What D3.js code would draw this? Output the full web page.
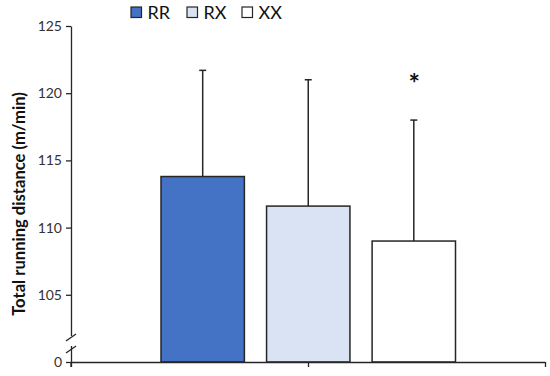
<!DOCTYPE html>
<html>
<head>
<meta charset="utf-8">
<script src="https://cdn.jsdelivr.net/npm/d3@7"></script>
<style>
  html, body { margin: 0; padding: 0; background: #fff; }
  svg { display: block; }
  text { font-family: Lato, "Open Sans", sans-serif; }
</style>
</head>
<body>
<div id="chart"></div>
<script>
// ---- data ----
const categories = ["RR", "RX", "XX"];
const means = [113.8, 111.6, 109.0];
const sds = [7.9, 9.4, 9.0];
const colors = ["#4472C4", "#DAE3F3", "#FFFFFF"];
const significance = ["", "", "*"];
const yTickValues = [100, 105, 110, 115, 120, 125];
const yTickLabels = ["0", "105", "110", "115", "120", "125"];
const yTitle = "Total running distance (m/min)";

// ---- layout ----
const W = 550, H = 376;
const svg = d3.select("#chart").append("svg").attr("width", W).attr("height", H);

const axisX0 = 71, axisX1 = 545, baseY = 362, topY = 26;
const y = d3.scaleLinear().domain([100, 125]).range([baseY, topY]);
const x = d3.scaleBand().domain(categories).range([161, 455.5]).paddingInner(0.21).paddingOuter(0);
const strokeCol = "#262626";

// bars
svg.selectAll("rect.bar").data(categories).enter().append("rect")
  .attr("class", "bar")
  .attr("x", d => x(d))
  .attr("width", x.bandwidth())
  .attr("y", (d, i) => y(means[i]))
  .attr("height", (d, i) => baseY - y(means[i]))
  .attr("fill", (d, i) => colors[i])
  .attr("stroke", strokeCol)
  .attr("stroke-width", 1.5);

// error bars (upper only)
const eb = svg.selectAll("g.eb").data(categories).enter().append("g").attr("class", "eb");
eb.append("line")
  .attr("x1", d => x(d) + x.bandwidth() / 2)
  .attr("x2", d => x(d) + x.bandwidth() / 2)
  .attr("y1", (d, i) => y(means[i]))
  .attr("y2", (d, i) => y(means[i] + sds[i]))
  .attr("stroke", strokeCol).attr("stroke-width", 1.5);
eb.append("line")
  .attr("x1", d => x(d) + x.bandwidth() / 2 - 3.5)
  .attr("x2", d => x(d) + x.bandwidth() / 2 + 3.5)
  .attr("y1", (d, i) => y(means[i] + sds[i]))
  .attr("y2", (d, i) => y(means[i] + sds[i]))
  .attr("stroke", strokeCol).attr("stroke-width", 1.5);

// significance markers
svg.selectAll("text.sig").data(categories).enter().append("text")
  .attr("class", "sig")
  .attr("x", d => x(d) + x.bandwidth() / 2 + 0.5)
  .attr("y", (d, i) => y(means[i] + sds[i]) - 27)
  .attr("text-anchor", "middle")
  .attr("font-size", 27)
  .attr("font-weight", "bold")
  .attr("font-family", "'DejaVu Sans', sans-serif")
  .attr("fill", "#111")
  .text((d, i) => significance[i]);

// y axis
const yAxis = d3.axisLeft(y)
  .tickValues(yTickValues)
  .tickFormat((d, i) => yTickLabels[i])
  .tickSize(5)
  .tickSizeOuter(0)
  .tickPadding(4);
const gy = svg.append("g").attr("transform", `translate(${axisX0},0)`).call(yAxis);
gy.select(".domain").attr("stroke", strokeCol).attr("stroke-width", 1.3);
gy.selectAll(".tick line").attr("stroke", strokeCol).attr("stroke-width", 1.3);
gy.selectAll(".tick text").attr("font-size", 14).attr("fill", "#333").attr("font-family", "Lato, sans-serif");

// axis break
svg.append("rect").attr("x", axisX0 - 3).attr("y", 336).attr("width", 6).attr("height", 10).attr("fill", "#fff");
[[66, 341, 76, 334], [66, 353, 76, 346]].forEach(s => {
  svg.append("line").attr("x1", s[0]).attr("y1", s[1]).attr("x2", s[2]).attr("y2", s[3])
    .attr("stroke", strokeCol).attr("stroke-width", 1.3);
});
// small tick below origin
svg.append("line").attr("x1", axisX0).attr("x2", axisX0).attr("y1", baseY).attr("y2", baseY + 5)
  .attr("stroke", strokeCol).attr("stroke-width", 1.3);

// x axis
const xl = d3.scaleLinear().domain([0, 2]).range([axisX0, axisX1]);
const xAxis = d3.axisBottom(xl).tickValues([0, 1, 2]).tickFormat("").tickSize(5).tickSizeOuter(0);
const gx = svg.append("g").attr("transform", `translate(0,${baseY})`).call(xAxis);
gx.select(".domain").attr("stroke", strokeCol).attr("stroke-width", 1.3);
gx.selectAll(".tick line").attr("stroke", strokeCol).attr("stroke-width", 1.3);

// y title
svg.append("text")
  .attr("transform", `translate(24.5,${(90 + 318) / 2}) rotate(-90)`)
  .attr("text-anchor", "middle")
  .attr("font-size", 16.6)
  .attr("font-weight", "bold")
  .attr("fill", "#111")
  .text(yTitle);

// legend
const legX = [131, 187, 242];
const lg = svg.selectAll("g.leg").data(categories).enter().append("g").attr("class", "leg")
  .attr("transform", (d, i) => `translate(${legX[i]},7)`);
lg.append("rect").attr("width", 10.5).attr("height", 10.5)
  .attr("fill", (d, i) => colors[i]).attr("stroke", strokeCol).attr("stroke-width", 1.2);
lg.append("text").attr("x", 16.5).attr("y", 12.3)
  .attr("font-size", 18).attr("fill", "#111")
  .text(d => d);
</script>
</body>
</html>
